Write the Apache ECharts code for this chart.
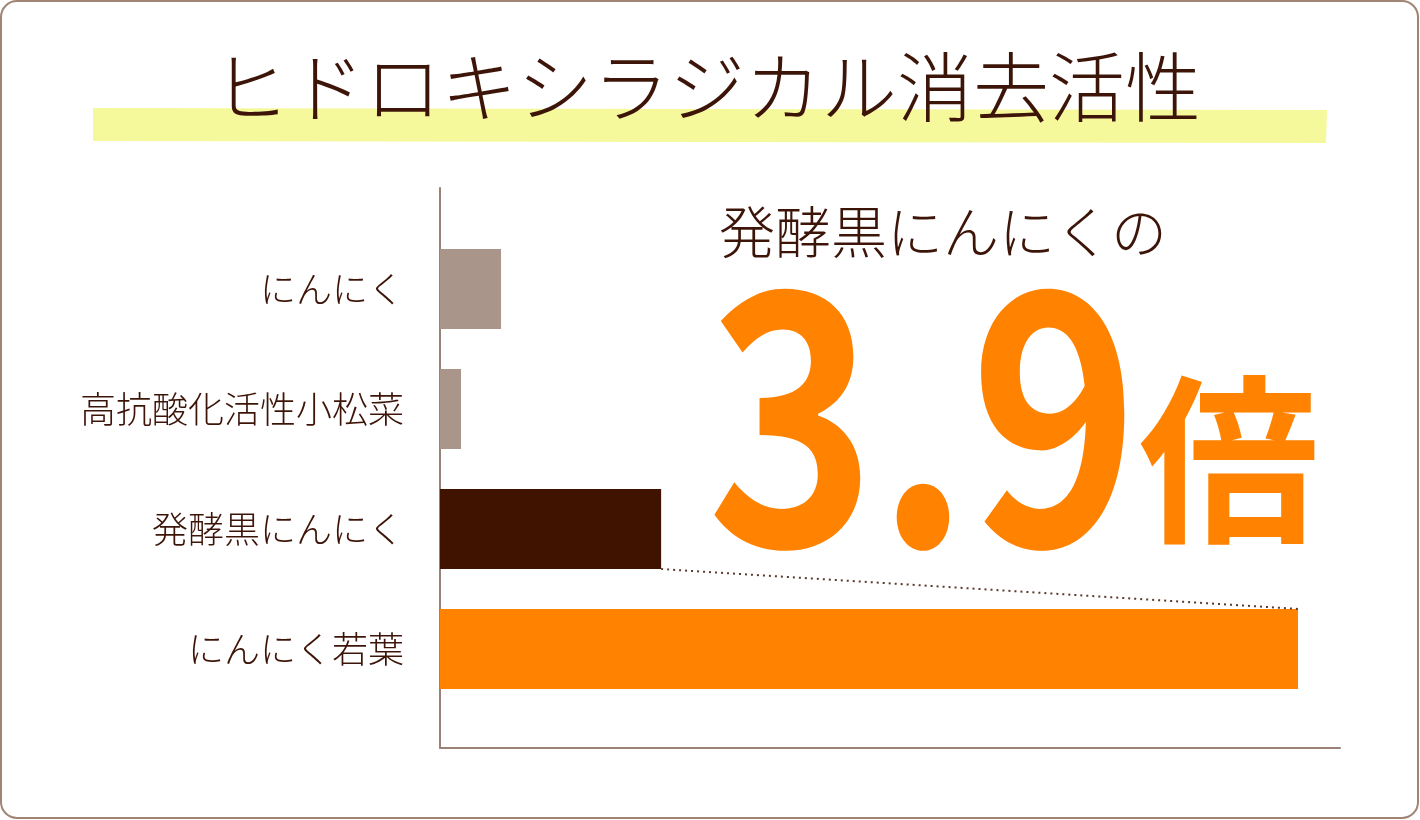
<!DOCTYPE html>
<html>
<head>
<meta charset="utf-8">
<script src="https://cdn.jsdelivr.net/npm/echarts@6/dist/echarts.min.js"></script>
<style>
html,body{margin:0;padding:0;background:#fff;}
#c{width:1420px;height:820px;}
</style>
</head>
<body>
<div id="c"></div>
<script>
// ---- data ----
var titleText = 'ヒドロキシラジカル消去活性';
var categories = ['にんにく', '高抗酸化活性小松菜', '発酵黒にんにく', 'にんにく若葉'];
var values = [27.6, 9.5, 100, 388];          // relative activity (発酵黒にんにく = 100)
var axisMax = 407;
var calloutLead = '発酵黒にんにくの';
var calloutRatio = '3.9';
var calloutUnit = '倍';
var compareFrom = 2;   // index of 発酵黒にんにく
var compareTo = 3;     // index of にんにく若葉

// ---- styles ----
var barColors = ['#aa958b', '#aa958b', '#401200', '#ff8200'];
var brown = '#3c1408';
var axisColor = '#9a8276';
var orange = '#ff8200';
var FONT = '"Noto Sans CJK JP", "Noto Sans", sans-serif';

var chart = echarts.init(document.getElementById('c'), null, {renderer: 'canvas'});

var barWidthPx = 80, slotPx = 120;
var half = (barWidthPx / 2) / slotPx;
var connector = [
  [values[compareFrom], compareFrom + 0.5 + half],
  [values[compareTo], compareTo + 0.5 - half]
];

var option = {
  backgroundColor: '#ffffff',
  animation: false,
  grid: [
    {left: 440, top: 229, width: 900, height: 480},
    {left: 440, top: 188, width: 900, height: 560}
  ],
  xAxis: [
    {gridIndex: 0, type: 'value', min: 0, max: axisMax, show: false},
    {gridIndex: 1, type: 'value', min: 0, max: 1,
     axisLine: {show: true, onZero: false, lineStyle: {color: axisColor, width: 2}},
     axisTick: {show: false}, axisLabel: {show: false}, splitLine: {show: false}}
  ],
  yAxis: [
    {gridIndex: 0, type: 'category', data: categories, inverse: true,
     axisLine: {show: false}, axisTick: {show: false}, splitLine: {show: false},
     axisLabel: {color: brown, fontSize: 36, fontWeight: 300, fontFamily: FONT, margin: 36}},
    {gridIndex: 0, type: 'value', min: 0, max: categories.length, inverse: true, show: false},
    {gridIndex: 1, type: 'value', min: 0, max: 1,
     axisLine: {show: true, onZero: false, lineStyle: {color: axisColor, width: 2}},
     axisTick: {show: false}, axisLabel: {show: false}, splitLine: {show: false}}
  ],
  series: [
    {
      type: 'bar', xAxisIndex: 0, yAxisIndex: 0, barWidth: barWidthPx,
      data: values.map(function (v, i) { return {value: v, itemStyle: {color: barColors[i]}}; }),
      silent: true
    },
    {
      type: 'line', xAxisIndex: 0, yAxisIndex: 1, data: connector,
      symbol: 'none', silent: true,
      lineStyle: {color: '#5a3a2c', width: 2, type: [2, 4]}
    }
  ],
  graphic: [
    {type: 'rect', shape: {x: 1, y: 1, width: 1417, height: 817, r: 16},
     style: {fill: 'none', stroke: '#a08574', lineWidth: 2}, z: 10},
    {type: 'polygon', shape: {points: [[93, 108], [1327, 110], [1326, 143], [93, 141]]},
     style: {fill: '#f5f99c'}, z: 0},
    {type: 'text', x: 707, y: 87, z: 5,
     style: {text: titleText, fill: brown, font: '300 76px ' + FONT, textAlign: 'center', textVerticalAlign: 'middle'}},
    {type: 'text', x: 943, y: 232, z: 5,
     style: {text: calloutLead, fill: brown, font: '300 56px ' + FONT, textAlign: 'center', textVerticalAlign: 'middle'}},
    {type: 'text', x: 707, y: 413, scaleX: 0.82, z: 5,
     style: {text: calloutRatio, fill: orange, font: '700 350px ' + FONT, textAlign: 'left', textVerticalAlign: 'middle'}},
    {type: 'text', x: 1229, y: 460, z: 5,
     style: {text: calloutUnit, fill: orange, font: '700 180px ' + FONT, textAlign: 'center', textVerticalAlign: 'middle'}}
  ]
};
chart.setOption(option);
</script>
</body>
</html>
